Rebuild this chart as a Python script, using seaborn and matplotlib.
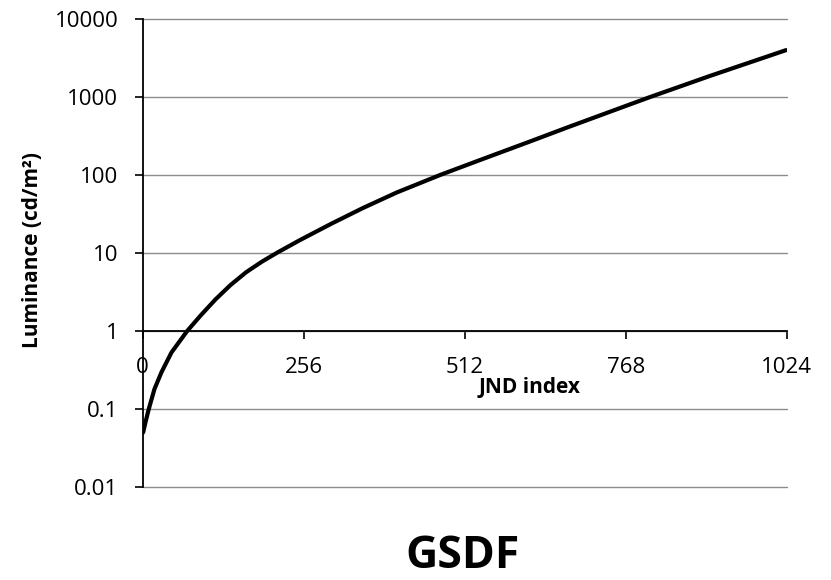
import matplotlib
matplotlib.use("Agg")
import matplotlib.pyplot as plt
import numpy as np
import pandas as pd
import seaborn as sns
from matplotlib.ticker import FixedLocator, FixedFormatter

# ---- data ----
jnd_index = [1, 5, 10, 19, 30, 46, 71, 93, 116, 140, 165, 190, 215, 250, 300, 350,
             404, 473, 536, 616, 677, 768, 807, 902, 1023]
luminance = [0.050, 0.069, 0.100, 0.180, 0.294, 0.530, 1.00, 1.60, 2.54, 3.89, 5.69, 7.76,
             10.2, 14.6, 23.7, 37.6, 59.6, 100.0, 155.0, 269.0, 412.0, 767.0, 1000.0,
             1862.0, 3990.0]

x_ticks = [0, 256, 512, 768, 1024]
x_tick_labels = ["0", "256", "512", "768", "1024"]
y_ticks = [0.01, 0.1, 1, 10, 100, 1000, 10000]
y_tick_labels = ["0.01", "0.1", "1", "10", "100", "1000", "10000"]

title = "GSDF"
x_label = "JND index"
y_label = "Luminance (cd/m²)"

df = pd.DataFrame({"jnd": jnd_index, "lum": luminance})

sns.set_theme(style="white")
plt.rcParams["font.family"] = ["Open Sans", "DejaVu Sans"]

W, H = 831, 580
fig = plt.figure(figsize=(W / 100, H / 100), dpi=100)
left, right, top, bottom = 142.5, 786.7, 19, 487
ax = fig.add_axes([left / W, 1 - bottom / H, (right - left) / W, (bottom - top) / H])

ax.set_yscale("log")
ax.set_ylim(0.01, 10000)
ax.set_xlim(0, 1024)

# gridlines
ax.yaxis.set_major_locator(FixedLocator(y_ticks))
ax.yaxis.set_major_formatter(FixedFormatter(y_tick_labels))
ax.yaxis.set_minor_locator(FixedLocator([]))
ax.grid(axis="y", which="major", color="#8c8c8c", linewidth=1.0)
ax.grid(axis="x", visible=False)
ax.set_axisbelow(True)
for gl in ax.get_ygridlines():
    gl.set_clip_on(False)

sns.lineplot(data=df, x="jnd", y="lum", color="black", linewidth=3.0, ax=ax, zorder=5)

ax.set_xlabel("")
ax.set_ylabel("")

ax.xaxis.set_major_locator(FixedLocator(x_ticks))
ax.xaxis.set_major_formatter(FixedFormatter(x_tick_labels))

for s in ["top", "right"]:
    ax.spines[s].set_visible(False)
ax.spines["bottom"].set_position(("data", 1))
ax.spines["bottom"].set_color("black")
ax.spines["bottom"].set_linewidth(1.3)
ax.spines["bottom"].set_zorder(4)
ax.spines["left"].set_color("black")
ax.spines["left"].set_linewidth(1.3)

ax.tick_params(axis="x", direction="out", length=5.5, width=1.2, color="black",
               labelsize=16, pad=13, bottom=True, labelcolor="black")
ax.tick_params(axis="y", direction="out", length=5.5, width=1.2, color="black",
               labelsize=16, pad=12, left=True, labelcolor="black")

fig.text(33 / W, 1 - 250 / H, y_label, rotation=90, ha="center", va="center",
         fontsize=15, fontweight="bold", color="black")
fig.text(530 / W, 1 - 387 / H, x_label, ha="center", va="center",
         fontsize=15, fontweight="bold", color="black")
fig.text(462 / W, 1 - 568 / H, title, ha="center", va="baseline",
         fontsize=32, fontweight="bold", color="black")

fig.savefig("out.png", dpi=100)
